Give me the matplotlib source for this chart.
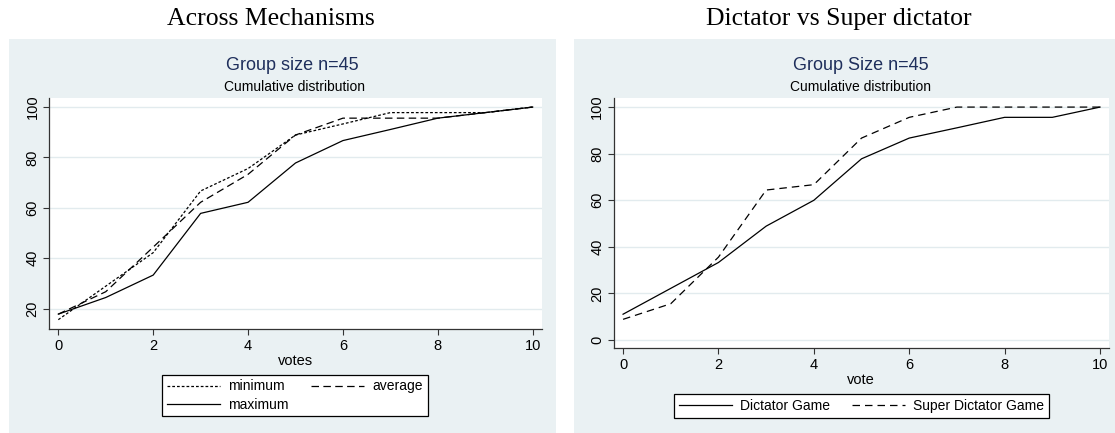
import matplotlib
matplotlib.use("Agg")
import matplotlib.pyplot as plt
from matplotlib.patches import Rectangle

# ---------------- data ----------------
votes = [0, 1, 2, 3, 4, 5, 6, 7, 8, 9, 10]
minimum = [15.6, 28.9, 42.2, 66.7, 75.6, 88.9, 93.3, 97.8, 97.8, 97.8, 100]
average = [17.8, 26.7, 44.4, 62.2, 73.3, 88.9, 95.6, 95.6, 95.6, 97.8, 100]
maximum = [17.8, 24.4, 33.3, 57.8, 62.2, 77.8, 86.7, 91.1, 95.6, 97.8, 100]

dictator = [11.1, 22.2, 33.3, 48.9, 60.0, 77.8, 86.7, 91.1, 95.6, 95.6, 100]
super_dictator = [8.9, 15.6, 35.6, 64.4, 66.7, 86.7, 95.6, 100, 100, 100, 100]

x_ticks = [0, 2, 4, 6, 8, 10]
left_yticks = [20, 40, 60, 80, 100]
right_yticks = [0, 20, 40, 60, 80, 100]

# ---------------- style ----------------
plt.rcParams['font.family'] = ['Liberation Sans', 'DejaVu Sans']
W, H = 1115, 433
DPI = 100
fig = plt.figure(figsize=(W / DPI, H / DPI), dpi=DPI, facecolor='white')

BG = '#EAF1F3'
GRID = '#E2EBEE'
NAVY = '#1F2F5C'
AX = '#333333'


def fx(x):
    return x / W


def fy(y):
    return 1 - y / H


def add_bg(x0, x1, y0, y1):
    fig.patches.append(Rectangle((fx(x0), fy(y1)), fx(x1) - fx(x0), fy(y0) - fy(y1),
                                 transform=fig.transFigure, facecolor=BG,
                                 edgecolor='none', zorder=-10))


def make_ax(x0, x1, y0, y1):
    ax = fig.add_axes([fx(x0), fy(y1), fx(x1) - fx(x0), fy(y0) - fy(y1)])
    ax.set_facecolor('white')
    for s in ['top', 'right']:
        ax.spines[s].set_visible(False)
    for s in ['left', 'bottom']:
        ax.spines[s].set_color(AX)
        ax.spines[s].set_linewidth(0.9)
    ax.tick_params(axis='both', direction='out', length=4, width=0.8,
                   color=AX, labelsize=10.5, labelcolor='black', pad=3)
    ax.grid(axis='y', color=GRID, linewidth=1.0)
    ax.set_axisbelow(True)
    return ax


add_bg(9, 556, 39, 433)
add_bg(574, 1115, 39, 433)

# ---------------- left panel ----------------
axl = make_ax(49.3, 541.7, 98, 329)
l1, = axl.plot(votes, minimum, color='black', lw=0.9, linestyle=(0, (2.2, 1.6)), label='minimum')
l2, = axl.plot(votes, average, color='black', lw=0.9, linestyle=(0, (6, 3.5)), label='average')
l3, = axl.plot(votes, maximum, color='black', lw=0.9, linestyle='-', label='maximum')
axl.set_xlim(-0.19, 10.19)
axl.set_ylim(11.9, 103.6)
axl.set_xticks(x_ticks)
axl.set_yticks(left_yticks)
axl.set_yticklabels([str(v) for v in left_yticks], rotation=90, va='center')
axl.set_xlabel('votes', fontsize=10.5, labelpad=1)

fig.text(fx(271), fy(19), 'Across Mechanisms', family='Liberation Serif',
         fontsize=18.5, ha='center', va='center')
fig.text(fx(292), fy(65), 'Group size n=45', fontsize=13, color=NAVY,
         ha='center', va='center')
fig.text(fx(294), fy(87), 'Cumulative distribution', fontsize=10,
         ha='center', va='center')

# column-major fill: [min, max] in col 1, [avg] in col 2 -> rows: min/avg, max
legl = fig.legend(handles=[l1, l3, l2], labels=['minimum', 'maximum', 'average'],
                  loc='center', bbox_to_anchor=(fx(295), fy(395.5)),
                  ncol=2, fontsize=10, frameon=True, fancybox=False, framealpha=1,
                  edgecolor='black', handlelength=3.8, handletextpad=0.6,
                  columnspacing=1.6, borderpad=0.35, labelspacing=0.3)
legl.get_frame().set_linewidth(0.9)

# ---------------- right panel ----------------
axr = make_ax(614, 1108.6, 98, 348)
r1, = axr.plot(votes, dictator, color='black', lw=0.9, linestyle='-', label='Dictator Game')
r2, = axr.plot(votes, super_dictator, color='black', lw=0.9, linestyle=(0, (6, 4)),
               label='Super Dictator Game')
axr.set_xlim(-0.19, 10.18)
axr.set_ylim(-3.4, 103.9)
axr.set_xticks(x_ticks)
axr.set_yticks(right_yticks)
axr.set_yticklabels([str(v) for v in right_yticks], rotation=90, va='center')
axr.set_xlabel('vote', fontsize=10.5, labelpad=1)

fig.text(fx(839), fy(19), 'Dictator vs Super dictator', family='Liberation Serif',
         fontsize=18.5, ha='center', va='center')
fig.text(fx(861), fy(65), 'Group Size n=45', fontsize=13, color=NAVY,
         ha='center', va='center')
fig.text(fx(861), fy(87), 'Cumulative distribution', fontsize=10,
         ha='center', va='center')

legr = fig.legend(handles=[r1, r2], labels=['Dictator Game', 'Super Dictator Game'],
                  loc='center', bbox_to_anchor=(fx(861.5), fy(406)),
                  ncol=2, fontsize=10, frameon=True, fancybox=False, framealpha=1,
                  edgecolor='black', handlelength=3.8, handletextpad=0.6,
                  columnspacing=1.6, borderpad=0.35, labelspacing=0.3)
legr.get_frame().set_linewidth(0.9)

fig.savefig('out.png', dpi=DPI, facecolor='white')
